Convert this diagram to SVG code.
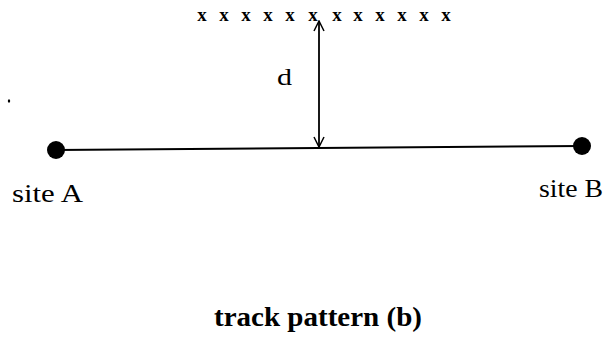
<svg xmlns="http://www.w3.org/2000/svg" width="610" height="339" viewBox="0 0 610 339">
<style>
.t{font-family:"Liberation Serif","Times New Roman",serif;fill:#000}
.x{font-family:"Liberation Serif","Times New Roman",serif;font-weight:bold;font-size:19px;text-anchor:middle;fill:#000}
.ln{stroke:#000;stroke-width:2;fill:none}
</style>
<defs>
<marker id="ah" viewBox="0 0 12 12" refX="11" refY="6" markerWidth="12" markerHeight="12" markerUnits="userSpaceOnUse" orient="auto-start-reverse">
<path d="M1,1 L11,6 L1,11" fill="none" stroke="#000" stroke-width="1.5"/>
</marker>
</defs>
<rect width="610" height="339" fill="#fff"/>
<g id="track">
<text class="x" x="202" y="21">x</text>
<text class="x" x="224" y="21">x</text>
<text class="x" x="246" y="21">x</text>
<text class="x" x="268" y="21">x</text>
<text class="x" x="290" y="21">x</text>
<text class="x" x="313" y="21">x</text>
<text class="x" x="337" y="21">x</text>
<text class="x" x="358" y="21">x</text>
<text class="x" x="380" y="21">x</text>
<text class="x" x="402" y="21">x</text>
<text class="x" x="424" y="21">x</text>
<text class="x" x="446" y="21">x</text>
</g>
<g id="siteA">
<circle cx="56" cy="150" r="9" fill="#000"/>
<text class="t" x="12" y="202" font-size="26" textLength="71" lengthAdjust="spacingAndGlyphs">site A</text>
</g>
<g id="siteB">
<circle cx="582" cy="146" r="9" fill="#000"/>
<text class="t" x="539" y="197" font-size="26" textLength="64" lengthAdjust="spacingAndGlyphs">site B</text>
</g>
<g id="connectors">
<line class="ln" x1="56" y1="150" x2="582" y2="146"/>
<line stroke="#000" stroke-width="1.8" x1="319" y1="21" x2="319" y2="147" marker-start="url(#ah)" marker-end="url(#ah)"/>
</g>
<text class="t" x="277" y="85" font-size="24" textLength="15" lengthAdjust="spacingAndGlyphs">d</text>
<ellipse cx="9" cy="101" rx="1.2" ry="1.8" fill="#000"/>
<text class="t" x="214" y="326" font-size="27" font-weight="bold" textLength="208" lengthAdjust="spacingAndGlyphs">track pattern (b)</text>
</svg>
